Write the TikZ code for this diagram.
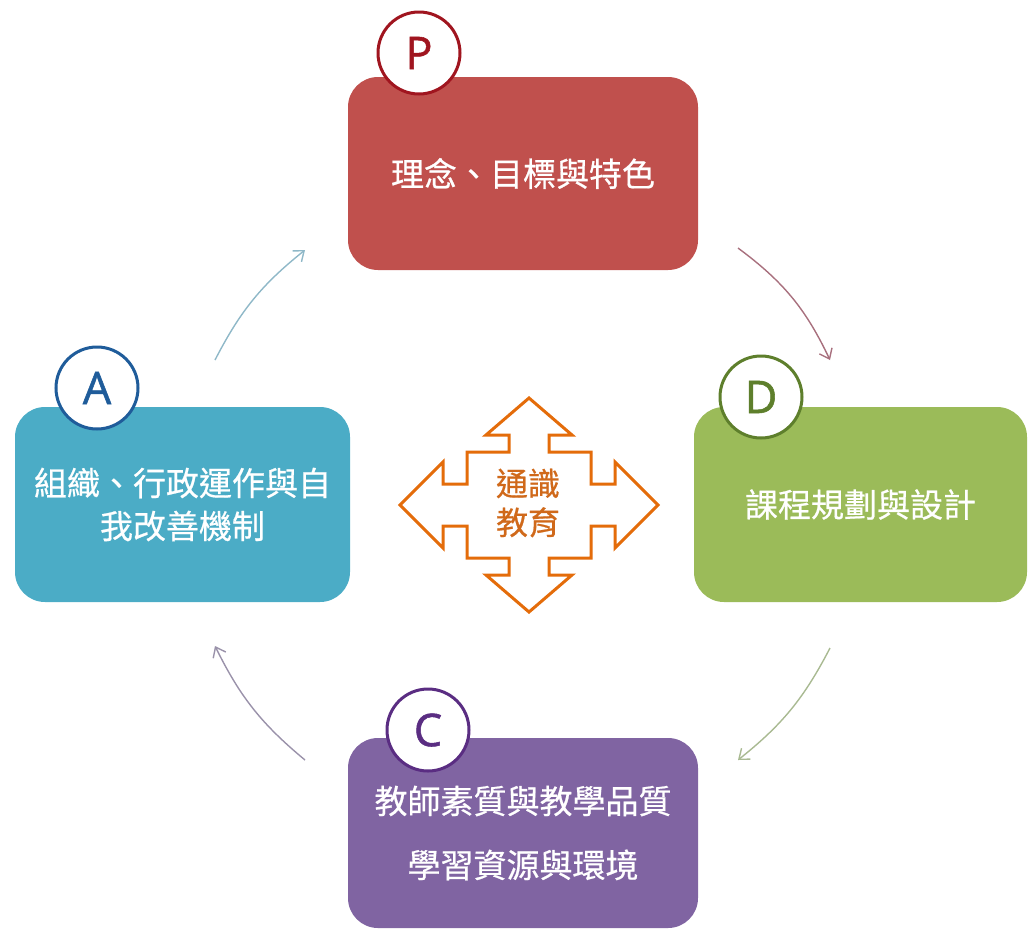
\documentclass[tikz,border=0pt]{standalone}
\usepackage{fontspec}
\setmainfont[FakeBold=0.6]{Noto Sans CJK TC}
\newfontfamily\letterfont[FakeBold=1.2]{Open Sans}
\usetikzlibrary{arrows.meta}
\definecolor{boxred}{HTML}{C0504D}
\definecolor{boxgreen}{HTML}{9BBB59}
\definecolor{boxblue}{HTML}{4BACC6}
\definecolor{boxpurple}{HTML}{8064A2}
\definecolor{ringred}{HTML}{A0151F}
\definecolor{ringgreen}{HTML}{5E7F2C}
\definecolor{ringblue}{HTML}{1F5C9A}
\definecolor{ringpurple}{HTML}{5A2D82}
\definecolor{crossorange}{HTML}{E46C0A}
\definecolor{crosstext}{HTML}{D0691A}
\definecolor{arrAP}{HTML}{8FB8C8}
\definecolor{arrPD}{HTML}{A8707E}
\definecolor{arrDC}{HTML}{A9BA92}
\definecolor{arrCA}{HTML}{9A92AA}
\tikzset{
  phasebox/.style={rectangle, rounded corners=30pt, inner sep=0pt, text=white, align=center,
    font=\fontsize{33}{43}\selectfont},
  ring/.style={circle, fill=white, draw=#1, text=#1, line width=3pt, minimum size=82pt, inner sep=0pt,
    font=\letterfont\fontsize{45}{45}\selectfont},
  conn/.style={line width=1.4pt, -{Straight Barb[length=9pt,width=14pt]}},
}
\begin{document}
\begin{tikzpicture}[x=1pt,y=1pt]
\useasboundingbox (0,0) rectangle (1028,-930);
% boxes
\node[phasebox, fill=boxred, minimum width=350pt, minimum height=193pt] (P) at (523,-173.5) {理念、目標與特色};
\node[phasebox, fill=boxgreen, minimum width=333pt, minimum height=195pt] (D) at (860.5,-504.5) {課程規劃與設計};
\node[phasebox, fill=boxblue, minimum width=335pt, minimum height=195pt] (A) at (182.5,-504.5) {組織、行政運作與自\\我改善機制};
\node[phasebox, fill=boxpurple, minimum width=350pt, minimum height=190pt, font=\fontsize{33}{64}\selectfont] (C) at (523,-833) {教師素質與教學品質\\學習資源與環境};
% rings
\node[ring=ringred] (Pr) at (419,-53) {P};
\node[ring=ringgreen] (Dr) at (761,-397) {D};
\node[ring=ringblue] (Ar) at (97,-388) {A};
\node[ring=ringpurple] (Cr) at (428,-730) {C};
% cycle arrows
\coordinate (ap1) at (215,-360);
\coordinate (ap2) at (305,-250);
\coordinate (pd1) at (738,-248);
\coordinate (pd2) at (830,-360);
\coordinate (dc1) at (830,-648);
\coordinate (dc2) at (738,-760);
\coordinate (ca1) at (305,-760);
\coordinate (ca2) at (215,-646);
\draw[conn, arrAP] (ap1) to[bend left=12] (ap2);
\draw[conn, arrPD] (pd1) to[bend left=14] (pd2);
\draw[conn, arrDC] (dc1) to[bend left=12] (dc2);
\draw[conn, arrCA] (ca1) to[bend left=12] (ca2);
% central cross arrow
\begin{scope}[shift={(529,-505)}]
\draw[crossorange, line width=3pt, line join=miter, fill=white]
  (0,107) -- (43,70) -- (20,70) -- (20,53) -- (62,53) -- (62,21) -- (86,21) -- (86,43) -- (129,0)
  -- (86,-43) -- (86,-21) -- (62,-21) -- (62,-53) -- (20,-53) -- (20,-70) -- (43,-70) -- (0,-107)
  -- (-43,-70) -- (-20,-70) -- (-20,-53) -- (-62,-53) -- (-62,-21) -- (-86,-21) -- (-86,-43) -- (-129,0)
  -- (-86,43) -- (-86,21) -- (-62,21) -- (-62,53) -- (-20,53) -- (-20,70) -- (-43,70) -- cycle;
\end{scope}
\node[text=crosstext, align=center, font=\fontsize{32}{39}\selectfont] (mid) at (528,-503) {通識\\教育};
\end{tikzpicture}
\end{document}
